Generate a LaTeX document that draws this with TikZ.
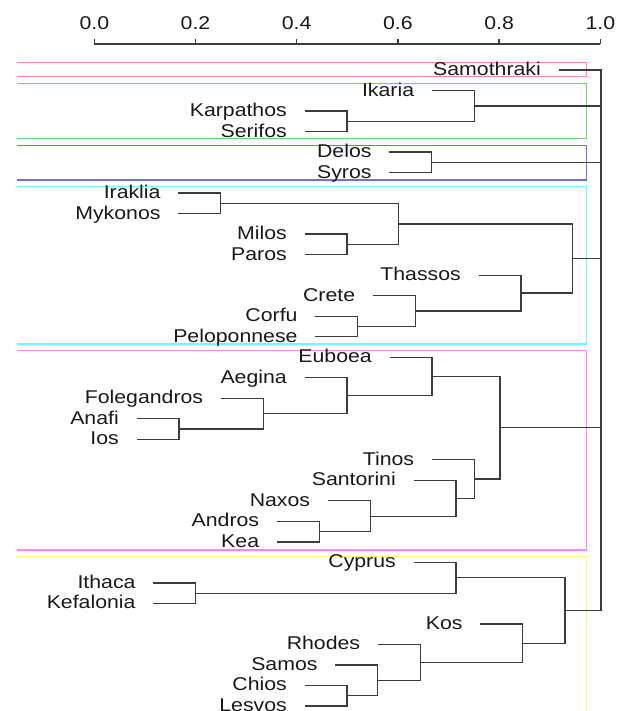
\documentclass[tikz,border=0pt]{standalone}
\usepackage{fontspec}
\setmainfont{Liberation Sans}[FakeStretch=1.15]
\definecolor{treecol}{RGB}{60,60,60}
\definecolor{rRed}{RGB}{255,140,140}
\definecolor{rGreen}{RGB}{110,215,110}
\definecolor{rBlue}{RGB}{110,110,235}
\definecolor{rCyan}{RGB}{110,250,250}
\definecolor{rMag}{RGB}{255,130,255}
\definecolor{rYel}{RGB}{250,250,110}
\pgfmathdeclarefunction{ly}{1}{\pgfmathparse{70+20.516*#1}}
\begin{document}
\begin{tikzpicture}[x=1pt,y=-1pt,
  tree/.style={draw=treecol,line width=1.3pt},
  lab/.style={anchor=east,inner xsep=17.5pt,inner ysep=0pt,text height=14pt,text depth=3pt,font=\fontsize{18.5}{20}\selectfont,text=black!90},
  ticklab/.style={anchor=base,inner sep=0pt,font=\fontsize{18.5}{20}\selectfont,text=black!90},
  box/.style={line width=1.4pt}]
\useasboundingbox (0,0) rectangle (623,711);
\clip (0,0) rectangle (623,711);
% axis
\draw[tree] (94.3,44) -- (600.3,44);
\foreach \i/\l in {0/0.0,1/0.2,2/0.4,3/0.6,4/0.8,5/1.0}{
  \draw[tree] ({94.3+101.2*\i},44) -- ({94.3+101.2*\i},39);
  \node[ticklab] (tick\i) at ({94.3+101.2*\i},30) {\l};
}
% cluster rectangles
\draw[box,rRed] (16.7,62.3) -- (586.7,62.3) -- (586.7,76.7) -- (16.7,76.7);
\draw[box,rGreen] (16.7,83.3) -- (586.7,83.3) -- (586.7,138.3) -- (16.7,138.3);
\draw[box,rBlue] (16.7,145.3) -- (586.7,145.3) -- (586.7,180) -- (16.7,180);
\draw[box,rCyan] (16.7,186.7) -- (586.7,186.7) -- (586.7,344) -- (16.7,344);
\draw[box,rMag] (16.7,350.5) -- (586.7,350.5) -- (586.7,550) -- (16.7,550);
\draw[box,rYel] (16.7,556.7) -- (586.7,556.7) -- (586.7,715);
% leaves
\node[lab] (Samothraki) at (558.5,{ly(0)}) {Samothraki};
\node[lab] (Ikaria) at (431.8,{ly(1)}) {Ikaria};
\node[lab] (Karpathos) at (304.5,{ly(2)}) {Karpathos};
\node[lab] (Serifos) at (304.5,{ly(3)}) {Serifos};
\node[lab] (Delos) at (389.2,{ly(4)}) {Delos};
\node[lab] (Syros) at (389.2,{ly(5)}) {Syros};
\node[lab] (Iraklia) at (178.2,{ly(6)}) {Iraklia};
\node[lab] (Mykonos) at (178.2,{ly(7)}) {Mykonos};
\node[lab] (Milos) at (304.5,{ly(8)}) {Milos};
\node[lab] (Paros) at (304.5,{ly(9)}) {Paros};
\node[lab] (Thassos) at (478.5,{ly(10)}) {Thassos};
\node[lab] (Crete) at (372.8,{ly(11)}) {Crete};
\node[lab] (Corfu) at (315.2,{ly(12)}) {Corfu};
\node[lab] (Peloponnese) at (315.2,{ly(13)}) {Peloponnese};
\node[lab] (Euboea) at (389.5,{ly(14)}) {Euboea};
\node[lab] (Aegina) at (304.5,{ly(15)}) {Aegina};
\node[lab] (Folegandros) at (220.8,{ly(16)}) {Folegandros};
\node[lab] (Anafi) at (136.5,{ly(17)}) {Anafi};
\node[lab] (Ios) at (136.5,{ly(18)}) {Ios};
\node[lab] (Tinos) at (431.8,{ly(19)}) {Tinos};
\node[lab] (Santorini) at (413.5,{ly(20)}) {Santorini};
\node[lab] (Naxos) at (327.8,{ly(21)}) {Naxos};
\node[lab] (Andros) at (276.8,{ly(22)}) {Andros};
\node[lab] (Kea) at (276.8,{ly(23)}) {Kea};
\node[lab] (Cyprus) at (413.5,{ly(24)}) {Cyprus};
\node[lab] (Ithaca) at (153.2,{ly(25)}) {Ithaca};
\node[lab] (Kefalonia) at (153.2,{ly(26)}) {Kefalonia};
\node[lab] (Kos) at (480.2,{ly(27)}) {Kos};
\node[lab] (Rhodes) at (377.8,{ly(28)}) {Rhodes};
\node[lab] (Samos) at (335.2,{ly(29)}) {Samos};
\node[lab] (Chios) at (304.5,{ly(30)}) {Chios};
\node[lab] (Lesvos) at (304.5,{ly(31)}) {Lesvos};
% merge points
\coordinate (mKS) at (347,{ly(2.5)});
\coordinate (mIk) at (474.3,{ly(1.75)});
\coordinate (mDS) at (431.7,{ly(4.5)});
\coordinate (mIM) at (220.7,{ly(6.5)});
\coordinate (mMP) at (347,{ly(8.5)});
\coordinate (mA) at (398.3,{ly(7.5)});
\coordinate (mCP) at (357.7,{ly(12.5)});
\coordinate (mCr) at (415.3,{ly(11.75)});
\coordinate (mTh) at (521,{ly(10.875)});
\coordinate (mCy) at (572.7,{ly(9.1875)});
\coordinate (mAI) at (179,{ly(17.5)});
\coordinate (mFo) at (263.3,{ly(16.75)});
\coordinate (mAe) at (347,{ly(15.875)});
\coordinate (mEu) at (432,{ly(14.9375)});
\coordinate (mAK) at (319.3,{ly(22.5)});
\coordinate (mNa) at (370.3,{ly(21.75)});
\coordinate (mSa) at (456,{ly(20.875)});
\coordinate (mTi) at (474.3,{ly(19.9375)});
\coordinate (mMg) at (500,{ly(17.4375)});
\coordinate (mIK) at (195.7,{ly(25.5)});
\coordinate (mCyp) at (456,{ly(24.75)});
\coordinate (mCL) at (347,{ly(30.5)});
\coordinate (mSm) at (377.7,{ly(29.75)});
\coordinate (mRh) at (420.3,{ly(28.875)});
\coordinate (mKo) at (522.7,{ly(27.9375)});
\coordinate (mYe) at (565,{ly(26.34375)});
\coordinate (rTop) at (601,{ly(0)});
\coordinate (rBot) at (601,{ly(26.34375)});
% connectors
\draw[tree] (Karpathos.east) -| (mKS) |- (Serifos.east);
\draw[tree] (Ikaria.east) -| (mIk) |- (mKS);
\draw[tree] (Delos.east) -| (mDS) |- (Syros.east);
\draw[tree] (Iraklia.east) -| (mIM) |- (Mykonos.east);
\draw[tree] (Milos.east) -| (mMP) |- (Paros.east);
\draw[tree] (mIM) -| (mA) |- (mMP);
\draw[tree] (Corfu.east) -| (mCP) |- (Peloponnese.east);
\draw[tree] (Crete.east) -| (mCr) |- (mCP);
\draw[tree] (Thassos.east) -| (mTh) |- (mCr);
\draw[tree] (mA) -| (mCy) |- (mTh);
\draw[tree] (Anafi.east) -| (mAI) |- (Ios.east);
\draw[tree] (Folegandros.east) -| (mFo) |- (mAI);
\draw[tree] (Aegina.east) -| (mAe) |- (mFo);
\draw[tree] (Euboea.east) -| (mEu) |- (mAe);
\draw[tree] (Andros.east) -| (mAK) |- (Kea.east);
\draw[tree] (Naxos.east) -| (mNa) |- (mAK);
\draw[tree] (Santorini.east) -| (mSa) |- (mNa);
\draw[tree] (Tinos.east) -| (mTi) |- (mSa);
\draw[tree] (mEu) -| (mMg) |- (mTi);
\draw[tree] (Ithaca.east) -| (mIK) |- (Kefalonia.east);
\draw[tree] (Cyprus.east) -| (mCyp) |- (mIK);
\draw[tree] (Chios.east) -| (mCL) |- (Lesvos.east);
\draw[tree] (Samos.east) -| (mSm) |- (mCL);
\draw[tree] (Rhodes.east) -| (mRh) |- (mSm);
\draw[tree] (Kos.east) -| (mKo) |- (mRh);
\draw[tree] (mCyp) -| (mYe) |- (mKo);
\draw[tree] (Samothraki.east) -- (rTop) -- (rBot) -- (mYe);
\draw[tree] (mIk) -- (mIk -| rTop);
\draw[tree] (mDS) -- (mDS -| rTop);
\draw[tree] (mCy) -- (mCy -| rTop);
\draw[tree] (mMg) -- (mMg -| rTop);
\end{tikzpicture}
\end{document}
